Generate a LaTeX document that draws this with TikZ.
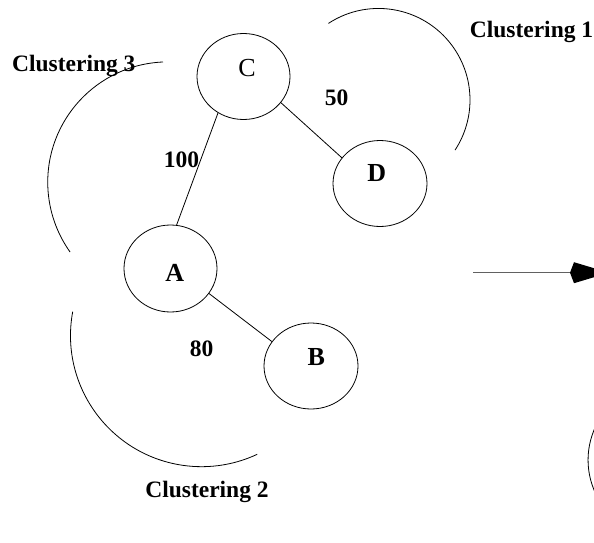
\documentclass[tikz,border=0pt]{standalone}
\usepackage{fontspec}
\setmainfont{Liberation Serif}
\usetikzlibrary{shapes.geometric,arrows.meta}
\tikzset{
  ell/.style={draw=black, line width=0.8pt, ellipse, inner sep=0pt},
  lbl/.style={font=\fontsize{23.5}{27}\selectfont\bfseries, anchor=base, inner sep=0pt},
  letb/.style={font=\fontsize{26}{30}\selectfont\bfseries, anchor=base, inner sep=0pt},
  letr/.style={font=\fontsize{26}{30}\selectfont, anchor=base, inner sep=0pt},
  edge/.style={draw=black, line width=0.8pt},
  clu/.style={draw=black, line width=0.8pt},
  arr/.style={draw=black!62, line width=1.3pt, -{Kite[length=39pt,width=21pt,inset=4pt,black]}}
}
\begin{document}
\begin{tikzpicture}[x=1pt,y=-1pt]
\useasboundingbox (0,0) rectangle (594,543);
\clip (0,0) rectangle (594,543);
% nodes
\node[ell, minimum width=93pt, minimum height=86pt] (C) at (243.5,76.5) {};
\node[ell, minimum width=94pt, minimum height=86pt] (D) at (380,183.5) {};
\node[ell, minimum width=93pt, minimum height=87pt] (A) at (170.5,268.5) {};
\node[ell, minimum width=94pt, minimum height=86pt] (B) at (311,366) {};
\node[letr] (Ct) at (247,77) {C};
\node[letb] (Dt) at (376.7,181) {D};
\node[letb] (At) at (174.7,281) {A};
\node[letb] (Bt) at (316.3,365) {B};
% edges
\draw[edge] (C.235) -- (A.82);
\draw[edge] (C.325) -- (D.146);
\draw[edge] (A.327) -- (B.148);
% edge labels
\node[lbl] (w100) at (181.5,167) {100};
\node[lbl] (w50) at (336.5,105) {50};
\node[lbl] (w80) at (201.5,356) {80};
% cluster arcs
\draw[clu] (163,62) arc[start angle=-92.4, end angle=-215.5, radius=120.3];
\draw[clu] (328.4,23.4) arc[start angle=-123.2, end angle=33.2, radius=91.5];
\draw[clu] (72.7,311.7) arc[start angle=-169.5, end angle=-295.1, radius=131.1];
\draw[clu] (598.5,421) arc[start angle=-150, end angle=-210, radius=78];
% cluster labels
\node[lbl] (L3) at (73.8,71.7) {Clustering 3};
\node[lbl] (L1) at (531.5,37.2) {Clustering 1};
\node[lbl] (L2) at (207,497.2) {Clustering 2};
% arrow
\coordinate (arrS) at (473,272.7);
\coordinate (arrE) at (609,272.7);
\draw[arr] (arrS) -- (arrE);
\end{tikzpicture}
\end{document}
